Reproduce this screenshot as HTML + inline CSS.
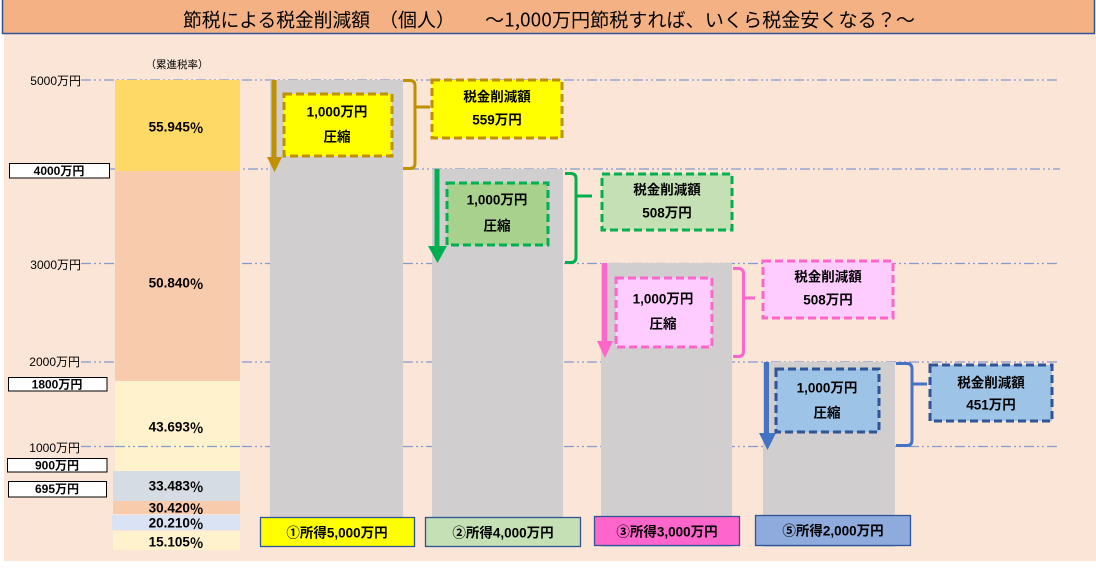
<!DOCTYPE html>
<html><head><meta charset="utf-8"><style>
html,body{margin:0;padding:0;background:#fff;}
svg{display:block;}
text{font-family:"Liberation Sans","Noto Sans CJK JP",sans-serif;fill:#000;}
.b{font-weight:bold;font-size:13.5px;}
.ax{font-size:12px;}
.axb{font-size:12px;font-weight:bold;}
.t{font-family:"Noto Sans CJK JP","Liberation Sans",sans-serif;font-size:19px;}
.pc{font-family:"Noto Sans CJK JP",sans-serif;}
.grid{stroke:#6F8FD0;stroke-width:1.2;stroke-dasharray:10 3 2 3 2 3;opacity:.85;fill:none;}
</style></head><body>
<svg width="1096" height="568" viewBox="0 0 1096 568" xmlns="http://www.w3.org/2000/svg">
<rect x="0" y="0" width="1096" height="568" fill="#fff"/>
<rect x="4" y="34" width="1092" height="527" fill="#FBE5D6"/>
<!-- title -->
<rect x="2.5" y="-2" width="1092" height="35.5" fill="#F4B183" stroke="#2F5597" stroke-width="1.5"/>
<text class="t" x="183" y="19" dominant-baseline="central" textLength="187" lengthAdjust="spacingAndGlyphs">節税による税金削減額</text>
<text class="t" x="417" y="19" dominant-baseline="central" text-anchor="middle">（個人）</text>
<text class="t" x="485" y="19" dominant-baseline="central" textLength="430" lengthAdjust="spacingAndGlyphs">～1,000万円節税すれば、いくら税金安くなる？～</text>

<!-- grid lines -->
<line class="grid" x1="81" y1="80" x2="1060" y2="80"/>
<line class="grid" x1="110" y1="169" x2="1060" y2="169"/>
<line class="grid" x1="81" y1="263.5" x2="1060" y2="263.5"/>
<line class="grid" x1="81" y1="362" x2="1060" y2="362"/>
<line class="grid" x1="81" y1="446.5" x2="1060" y2="446.5"/>

<!-- axis labels -->
<text class="ax" x="81" y="81" text-anchor="end" dominant-baseline="central">5000万円</text>
<text class="ax" x="81" y="265" text-anchor="end" dominant-baseline="central">3000万円</text>
<text class="ax" x="80" y="362" text-anchor="end" dominant-baseline="central">2000万円</text>
<text class="ax" x="80" y="448" text-anchor="end" dominant-baseline="central">1000万円</text>
<rect x="9.5" y="163.5" width="100" height="14.5" fill="#fff" stroke="#000" stroke-width="1"/>
<text class="axb" x="59" y="171" text-anchor="middle" dominant-baseline="central">4000万円</text>
<rect x="8.5" y="377.5" width="98.5" height="13.5" fill="#fff" stroke="#000" stroke-width="1"/>
<text class="axb" x="57" y="384.5" text-anchor="middle" dominant-baseline="central">1800万円</text>
<rect x="7.5" y="458.5" width="99.5" height="13.5" fill="#fff" stroke="#000" stroke-width="1"/>
<text class="axb" x="57" y="465.5" text-anchor="middle" dominant-baseline="central">900万円</text>
<rect x="8.5" y="481.5" width="98" height="15.5" fill="#fff" stroke="#000" stroke-width="1"/>
<text class="axb" x="57" y="489" text-anchor="middle" dominant-baseline="central">695万円</text>

<!-- rate column -->
<text x="177" y="65" text-anchor="middle" dominant-baseline="central" style="font-size:10.5px">（累進税率）</text>
<rect x="115" y="80" width="125" height="91" fill="#FFD966"/>
<rect x="115" y="171" width="125" height="210" fill="#F8CBAD"/>
<rect x="115" y="381" width="125" height="90" fill="#FFF2CC"/>
<rect x="113" y="471" width="127" height="30" fill="#D6DCE4"/>
<rect x="113" y="501" width="127" height="13" fill="#F8CBAD"/>
<rect x="112" y="515" width="128" height="15" fill="#DAE3F3"/>
<rect x="113" y="531" width="127" height="19" fill="#FFF2CC"/>
<line class="grid" x1="115" y1="446.5" x2="240" y2="446.5"/>
<text class="b" x="176" y="127" text-anchor="middle" dominant-baseline="central">55.945<tspan class="pc">％</tspan></text>
<text class="b" x="176" y="283" text-anchor="middle" dominant-baseline="central">50.840<tspan class="pc">％</tspan></text>
<text class="b" x="176" y="427" text-anchor="middle" dominant-baseline="central">43.693<tspan class="pc">％</tspan></text>
<text class="b" x="176" y="486" text-anchor="middle" dominant-baseline="central">33.483<tspan class="pc">％</tspan></text>
<text class="b" x="176" y="508" text-anchor="middle" dominant-baseline="central">30.420<tspan class="pc">％</tspan></text>
<text class="b" x="176" y="523" text-anchor="middle" dominant-baseline="central">20.210<tspan class="pc">％</tspan></text>
<text class="b" x="176" y="542" text-anchor="middle" dominant-baseline="central">15.105<tspan class="pc">％</tspan></text>

<!-- gray bars -->
<rect x="270" y="80" width="133" height="467" fill="#D0CECE"/>
<rect x="432" y="169" width="131" height="378" fill="#D0CECE"/>
<rect x="601" y="263" width="131" height="284" fill="#D0CECE"/>
<rect x="763" y="362" width="132" height="185" fill="#D0CECE"/>

<!-- group 1 gold -->
<line x1="274" y1="80" x2="274" y2="158" stroke="#BF9000" stroke-width="5"/>
<polygon points="267,157 282,157 274.5,172" fill="#BF9000"/>
<rect x="284" y="94" width="108" height="62" fill="#FFFF00" stroke="#BF9000" stroke-width="3" stroke-dasharray="8 4"/>
<text class="b" x="337" y="112" text-anchor="middle" dominant-baseline="central">1,000万円</text>
<text class="b" x="337" y="137" text-anchor="middle" dominant-baseline="central">圧縮</text>
<path d="M403,80.5 H410 Q415,80.5 415,86 V163 Q415,168.5 410,168.5 H403 M415,107 H430" fill="none" stroke="#BF9000" stroke-width="3"/>
<rect x="432" y="80" width="130" height="58" fill="#FFFF00" stroke="#BF9000" stroke-width="3" stroke-dasharray="8 4"/>
<text class="b" x="497" y="97" text-anchor="middle" dominant-baseline="central">税金削減額</text>
<text class="b" x="497" y="120" text-anchor="middle" dominant-baseline="central">559万円</text>

<!-- group 2 green -->
<line x1="437" y1="169" x2="437" y2="247" stroke="#00B050" stroke-width="5"/>
<polygon points="428,246 447,246 437.5,263" fill="#00B050"/>
<rect x="447" y="183" width="101" height="62" fill="#A9D18E" stroke="#00B050" stroke-width="3" stroke-dasharray="8 4"/>
<text class="b" x="497" y="200" text-anchor="middle" dominant-baseline="central">1,000万円</text>
<text class="b" x="497" y="226" text-anchor="middle" dominant-baseline="central">圧縮</text>
<path d="M565,173.5 H571 Q576,173.5 576,179 V257 Q576,262.5 571,262.5 H565 M576,196 H592" fill="none" stroke="#00B050" stroke-width="3"/>
<rect x="602" y="174" width="130" height="56" fill="#C5E0B4" stroke="#00B050" stroke-width="3" stroke-dasharray="8 4"/>
<text class="b" x="667" y="190" text-anchor="middle" dominant-baseline="central">税金削減額</text>
<text class="b" x="667" y="213" text-anchor="middle" dominant-baseline="central">508万円</text>

<!-- group 3 pink -->
<line x1="604.5" y1="263" x2="604.5" y2="342" stroke="#FF66CC" stroke-width="5"/>
<polygon points="597,341 613,341 605,358" fill="#FF66CC"/>
<rect x="616" y="278" width="96" height="69" fill="#FFCCFF" stroke="#FF66CC" stroke-width="3" stroke-dasharray="8 4"/>
<text class="b" x="663" y="299" text-anchor="middle" dominant-baseline="central">1,000万円</text>
<text class="b" x="663" y="324" text-anchor="middle" dominant-baseline="central">圧縮</text>
<path d="M733,268.5 H738.5 Q743.5,268.5 743.5,274 V351 Q743.5,356.5 738.5,356.5 H733 M743.5,298 H755" fill="none" stroke="#FF66CC" stroke-width="3"/>
<rect x="763" y="261" width="130" height="57" fill="#FFCCFF" stroke="#FF66CC" stroke-width="3" stroke-dasharray="8 4"/>
<text class="b" x="828" y="277" text-anchor="middle" dominant-baseline="central">税金削減額</text>
<text class="b" x="828" y="300" text-anchor="middle" dominant-baseline="central">508万円</text>

<!-- group 4 blue -->
<line x1="766.5" y1="362" x2="766.5" y2="434" stroke="#4472C4" stroke-width="5"/>
<polygon points="759,433 776,433 767.5,450" fill="#4472C4"/>
<rect x="776" y="369" width="103" height="63" fill="#9DC3E6" stroke="#2F5597" stroke-width="3" stroke-dasharray="8 4"/>
<text class="b" x="827" y="388" text-anchor="middle" dominant-baseline="central">1,000万円</text>
<text class="b" x="827" y="413" text-anchor="middle" dominant-baseline="central">圧縮</text>
<path d="M896,363.5 H907 Q912,363.5 912,369 V440 Q912,445.5 907,445.5 H896 M912,384 H927" fill="none" stroke="#4472C4" stroke-width="3"/>
<rect x="930" y="365" width="122" height="56" fill="#9DC3E6" stroke="#2F5597" stroke-width="3" stroke-dasharray="8 4"/>
<text class="b" x="991" y="383" text-anchor="middle" dominant-baseline="central">税金削減額</text>
<text class="b" x="991" y="405" text-anchor="middle" dominant-baseline="central">451万円</text>

<!-- bottom labels -->
<rect x="260.5" y="517.5" width="154" height="29" fill="#FFFF00" stroke="#2F5597" stroke-width="1.3"/>
<text class="b" x="337" y="533" text-anchor="middle" dominant-baseline="central">①所得5,000万円</text>
<rect x="425.5" y="517.5" width="155" height="29" fill="#C5E0B4" stroke="#2F5597" stroke-width="1.3"/>
<text class="b" x="503" y="533" text-anchor="middle" dominant-baseline="central">②所得4,000万円</text>
<rect x="594.5" y="516.5" width="145" height="29" fill="#FF66CC" stroke="#2F5597" stroke-width="1.3"/>
<text class="b" x="667" y="532" text-anchor="middle" dominant-baseline="central">③所得3,000万円</text>
<rect x="755.5" y="515.5" width="155" height="30" fill="#8FAADC" stroke="#2F5597" stroke-width="1.3"/>
<text class="b" x="833" y="531" text-anchor="middle" dominant-baseline="central">⑤所得2,000万円</text>
</svg>
</body></html>
